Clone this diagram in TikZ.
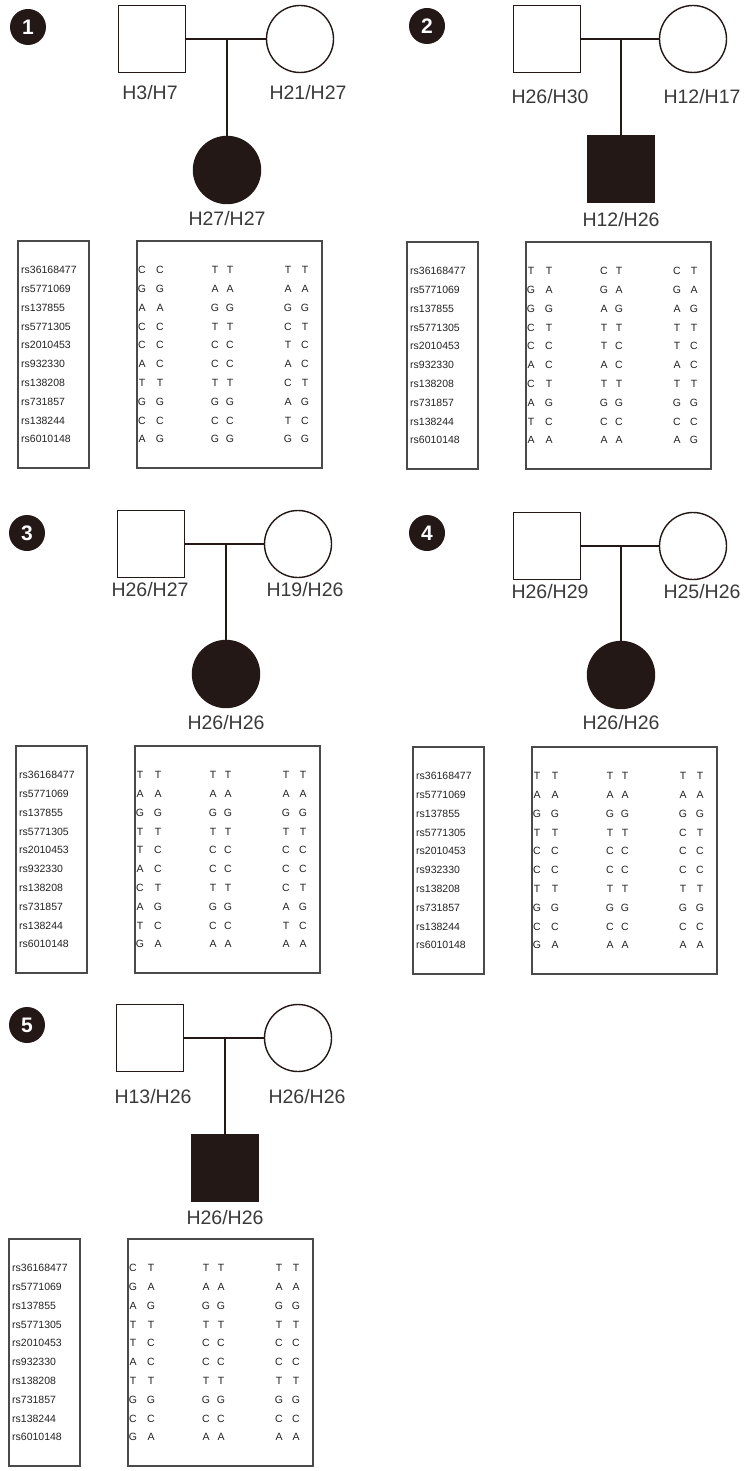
\documentclass[tikz,border=0pt]{standalone}
\usepackage{fontspec}
\setmainfont{Liberation Sans}
\definecolor{ink}{HTML}{231815}
\definecolor{txt}{HTML}{3A3A3A}
\definecolor{tabtxt}{HTML}{222222}
\definecolor{boxgray}{HTML}{4A4A4A}

\begin{document}
\begin{tikzpicture}[x=1pt,y=-1pt]
    % Stili
    \tikzstyle{male}=[draw=ink, line width=1.4pt, fill=white, minimum size=67pt, inner sep=0pt]
    \tikzstyle{female}=[male, circle]
    \tikzstyle{affected}=[fill=ink]
    \tikzstyle{hap}=[text=txt, font=\fontsize{19.5}{22}\selectfont, inner sep=0pt]
    \tikzstyle{badge}=[circle, fill=ink, minimum size=36pt, inner sep=0pt, text=white, font=\fontsize{21}{22}\selectfont\bfseries]
    \tikzstyle{link}=[draw=ink, line width=1.4pt]
    \tikzstyle{tabbox}=[draw=boxgray, line width=1.6pt]
    \tikzstyle{snp}=[anchor=west, text=tabtxt, font=\fontsize{10.5}{12}\selectfont, inner sep=0pt]
    \tikzstyle{geno}=[text=tabtxt, font=\fontsize{10.5}{12}\selectfont, inner sep=0pt]

    \useasboundingbox (0,0) rectangle (753,1471);

    % Famiglia 1
    \node[badge] (b1) at (28,27) {1};
    \node[male] (dad1) at (152,39) {};
    \node[female] (mom1) at (300,39) {};
    \coordinate (mid1) at (227,39);
    \node[female, affected] (kid1) at (227,170) {};
    \node[hap] (hdad1) at (150,93) {H3/H7};
    \node[hap] (hmom1) at (308,93) {H21/H27};
    \node[hap] (hkid1) at (227,219) {H27/H27};
    \draw[link] (dad1) -- (mom1);
    \draw[link] (mid1) -- (kid1);

    % Famiglia 2
    \node[badge] (b2) at (427,26) {2};
    \node[male] (dad2) at (547,39) {};
    \node[female] (mom2) at (693,39) {};
    \coordinate (mid2) at (621,39);
    \node[male, affected] (kid2) at (621,169) {};
    \node[hap] (hdad2) at (550,97) {H26/H30};
    \node[hap] (hmom2) at (702,97) {H12/H17};
    \node[hap] (hkid2) at (621,220) {H12/H26};
    \draw[link] (dad2) -- (mom2);
    \draw[link] (mid2) -- (kid2);

    % Famiglia 3
    \node[badge] (b3) at (27,533) {3};
    \node[male] (dad3) at (151,544) {};
    \node[female] (mom3) at (298,544) {};
    \coordinate (mid3) at (226,544);
    \node[female, affected] (kid3) at (226,674) {};
    \node[hap] (hdad3) at (150,590) {H26/H27};
    \node[hap] (hmom3) at (305,590) {H19/H26};
    \node[hap] (hkid3) at (226,723) {H26/H26};
    \draw[link] (dad3) -- (mom3);
    \draw[link] (mid3) -- (kid3);

    % Famiglia 4
    \node[badge] (b4) at (427,533) {4};
    \node[male] (dad4) at (547,546) {};
    \node[female] (mom4) at (693,546) {};
    \coordinate (mid4) at (621,546);
    \node[female, affected] (kid4) at (621,675) {};
    \node[hap] (hdad4) at (550,592) {H26/H29};
    \node[hap] (hmom4) at (702,592) {H25/H26};
    \node[hap] (hkid4) at (621,723) {H26/H26};
    \draw[link] (dad4) -- (mom4);
    \draw[link] (mid4) -- (kid4);

    % Famiglia 5
    \node[badge] (b5) at (27,1025) {5};
    \node[male] (dad5) at (150,1038) {};
    \node[female] (mom5) at (298,1038) {};
    \coordinate (mid5) at (225,1038);
    \node[male, affected] (kid5) at (225,1168) {};
    \node[hap] (hdad5) at (153,1097) {H13/H26};
    \node[hap] (hmom5) at (307,1097) {H26/H26};
    \node[hap] (hkid5) at (225,1218) {H26/H26};
    \draw[link] (dad5) -- (mom5);
    \draw[link] (mid5) -- (kid5);

    % Tabella 1
    \begin{scope}[shift={(18,241)}]
        \draw[tabbox] (0,0) rectangle (71,227);
        \draw[tabbox] (119,0) rectangle (304,227);
        \foreach \snpid [count=\i] in {rs36168477,rs5771069,rs137855,rs5771305,rs2010453,rs932330,rs138208,rs731857,rs138244,rs6010148}
            \node[snp] (t1s\i) at (3,{10.2+18.8*\i}) {\snpid};
        \foreach \a/\b/\c/\d/\e/\f [count=\i] in {C/C/T/T/T/T, G/G/A/A/A/A, A/A/G/G/G/G, C/C/T/T/C/T, C/C/C/C/T/C,
                                                 A/C/C/C/A/C, T/T/T/T/C/T, G/G/G/G/A/G, C/C/C/C/T/C, A/G/G/G/G/G}
            \foreach \g/\gx [count=\j] in {\a/124,\b/142,\c/197,\d/212,\e/270,\f/287}
                \node[geno] (t1g\i-\j) at (\gx,{10.2+18.8*\i}) {\g};
    \end{scope}

    % Tabella 2
    \begin{scope}[shift={(407,242)}]
        \draw[tabbox] (0,0) rectangle (71,227);
        \draw[tabbox] (119,0) rectangle (304,227);
        \foreach \snpid [count=\i] in {rs36168477,rs5771069,rs137855,rs5771305,rs2010453,rs932330,rs138208,rs731857,rs138244,rs6010148}
            \node[snp] (t2s\i) at (3,{10.2+18.8*\i}) {\snpid};
        \foreach \a/\b/\c/\d/\e/\f [count=\i] in {T/T/C/T/C/T, G/A/G/A/G/A, G/G/A/G/A/G, C/T/T/T/T/T, C/C/T/C/T/C,
                                                 A/C/A/C/A/C, C/T/T/T/T/T, A/G/G/G/G/G, T/C/C/C/C/C, A/A/A/A/A/G}
            \foreach \g/\gx [count=\j] in {\a/124,\b/142,\c/197,\d/212,\e/270,\f/287}
                \node[geno] (t2g\i-\j) at (\gx,{10.2+18.8*\i}) {\g};
    \end{scope}

    % Tabella 3
    \begin{scope}[shift={(16,746)}]
        \draw[tabbox] (0,0) rectangle (71,227);
        \draw[tabbox] (119,0) rectangle (304,227);
        \foreach \snpid [count=\i] in {rs36168477,rs5771069,rs137855,rs5771305,rs2010453,rs932330,rs138208,rs731857,rs138244,rs6010148}
            \node[snp] (t3s\i) at (3,{10.2+18.8*\i}) {\snpid};
        \foreach \a/\b/\c/\d/\e/\f [count=\i] in {T/T/T/T/T/T, A/A/A/A/A/A, G/G/G/G/G/G, T/T/T/T/T/T, T/C/C/C/C/C,
                                                 A/C/C/C/C/C, C/T/T/T/C/T, A/G/G/G/A/G, T/C/C/C/T/C, G/A/A/A/A/A}
            \foreach \g/\gx [count=\j] in {\a/124,\b/142,\c/197,\d/212,\e/270,\f/287}
                \node[geno] (t3g\i-\j) at (\gx,{10.2+18.8*\i}) {\g};
    \end{scope}

    % Tabella 4
    \begin{scope}[shift={(413,747)}]
        \draw[tabbox] (0,0) rectangle (71,227);
        \draw[tabbox] (119,0) rectangle (304,227);
        \foreach \snpid [count=\i] in {rs36168477,rs5771069,rs137855,rs5771305,rs2010453,rs932330,rs138208,rs731857,rs138244,rs6010148}
            \node[snp] (t4s\i) at (3,{10.2+18.8*\i}) {\snpid};
        \foreach \a/\b/\c/\d/\e/\f [count=\i] in {T/T/T/T/T/T, A/A/A/A/A/A, G/G/G/G/G/G, T/T/T/T/C/T, C/C/C/C/C/C,
                                                 C/C/C/C/C/C, T/T/T/T/T/T, G/G/G/G/G/G, C/C/C/C/C/C, G/A/A/A/A/A}
            \foreach \g/\gx [count=\j] in {\a/124,\b/142,\c/197,\d/212,\e/270,\f/287}
                \node[geno] (t4g\i-\j) at (\gx,{10.2+18.8*\i}) {\g};
    \end{scope}

    % Tabella 5
    \begin{scope}[shift={(9,1239)}]
        \draw[tabbox] (0,0) rectangle (71,227);
        \draw[tabbox] (119,0) rectangle (304,227);
        \foreach \snpid [count=\i] in {rs36168477,rs5771069,rs137855,rs5771305,rs2010453,rs932330,rs138208,rs731857,rs138244,rs6010148}
            \node[snp] (t5s\i) at (3,{10.2+18.8*\i}) {\snpid};
        \foreach \a/\b/\c/\d/\e/\f [count=\i] in {C/T/T/T/T/T, G/A/A/A/A/A, A/G/G/G/G/G, T/T/T/T/T/T, T/C/C/C/C/C,
                                                 A/C/C/C/C/C, T/T/T/T/T/T, G/G/G/G/G/G, C/C/C/C/C/C, G/A/A/A/A/A}
            \foreach \g/\gx [count=\j] in {\a/124,\b/142,\c/197,\d/212,\e/270,\f/287}
                \node[geno] (t5g\i-\j) at (\gx,{10.2+18.8*\i}) {\g};
    \end{scope}
\end{tikzpicture}
\end{document}
